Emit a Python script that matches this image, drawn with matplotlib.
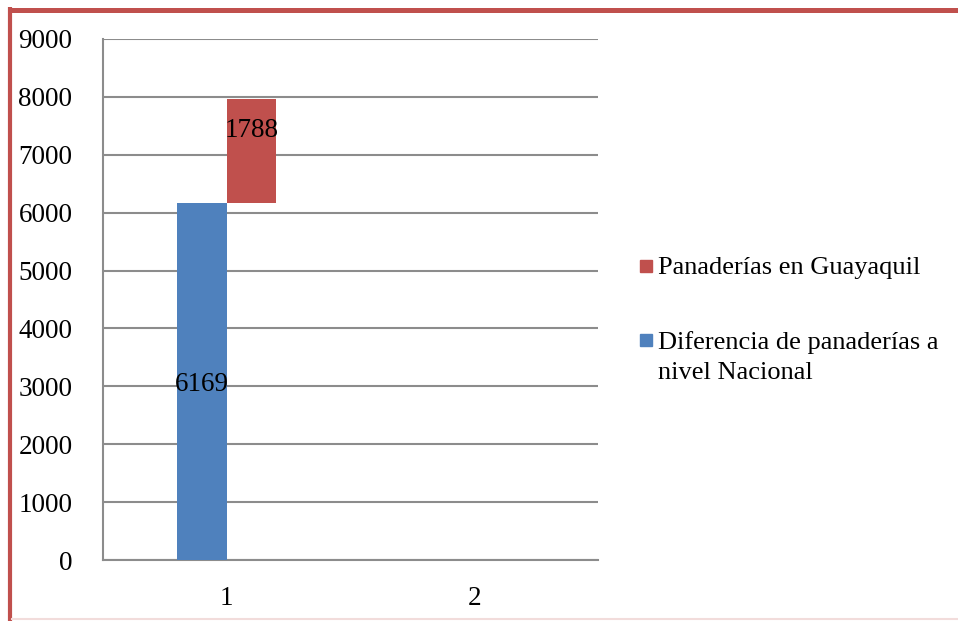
import matplotlib
matplotlib.use('Agg')
import matplotlib.pyplot as plt
from matplotlib.lines import Line2D
from matplotlib.patches import Rectangle

plt.rcParams['font.family'] = ['Liberation Serif', 'DejaVu Serif']

# Chart data
categories = [1, 2]
diferencia = [6169, 0]
guayaquil = [1788, 0]
y_ticks = list(range(0, 10000, 1000))
series_names = ['Panaderías en Guayaquil',
                'Diferencia de panaderías a\nnivel Nacional']

blue = '#4f81bd'
red = '#c0504d'
grid_c = '#8c8c8c'
fs = 19.5
fs_leg = 19

H = 621.0
Wd = 958.0

fig = plt.figure(figsize=(9.58, 6.21), dpi=100)
ax = fig.add_axes([0.1075, 0.0982, 0.5167, 0.839])

w = 0.2
xb = [c - w / 2 for c in categories]
xr = [c + w / 2 for c in categories]
ax.bar(xb, diferencia, width=w, color=blue, zorder=3)
ax.bar(xr, guayaquil, width=w, bottom=diferencia, color=red, zorder=3)

# value labels
ax.text(xb[0], diferencia[0] / 2, str(diferencia[0]), ha='center',
        va='center_baseline', fontsize=fs, zorder=4)
ax.text(xr[0], diferencia[0] + guayaquil[0] * 0.73, str(guayaquil[0]),
        ha='center', va='center_baseline', fontsize=fs, zorder=4)

ax.set_xlim(0.5, 2.5)
ax.set_ylim(0, 9000)
ax.set_yticks(y_ticks)
ax.set_xticks(categories)
ax.set_xticklabels([str(c) for c in categories])
ax.tick_params(axis='both', length=0, labelsize=fs)
ax.tick_params(axis='y', pad=22)
ax.tick_params(axis='x', pad=19)
ax.yaxis.grid(True, color=grid_c, linewidth=1.5, zorder=0)
for s in ['top', 'right']:
    ax.spines[s].set_visible(False)
for s in ['left', 'bottom']:
    ax.spines[s].set_color(grid_c)
    ax.spines[s].set_linewidth(1.5)

# legend: square markers with text, first line of each entry beside its marker
leg_rows = [266, 340]
for name, col, yc in zip(series_names, [red, blue], leg_rows):
    fig.add_artist(Rectangle((640 / Wd, 1 - (yc + 6) / H), 12 / Wd, 12 / H,
                             color=col, transform=fig.transFigure))
    fig.text(658 / Wd, 1 - (yc - 9) / H, name, ha='left', va='top',
             fontsize=fs_leg, linespacing=1.45)

# outer frame
fig.add_artist(Line2D([8 / Wd, 1], [1 - 9.5 / H] * 2, color=red, linewidth=3.6,
                      transform=fig.transFigure, solid_capstyle='butt'))
fig.add_artist(Line2D([10 / Wd] * 2, [0, 1 - 7 / H], color=red, linewidth=3.0,
                      transform=fig.transFigure, solid_capstyle='butt'))
fig.add_artist(Line2D([12 / Wd, 1], [1 - 619 / H] * 2, color='#f2dcdb',
                      linewidth=1.5, transform=fig.transFigure))

fig.savefig('out.png', dpi=100)
